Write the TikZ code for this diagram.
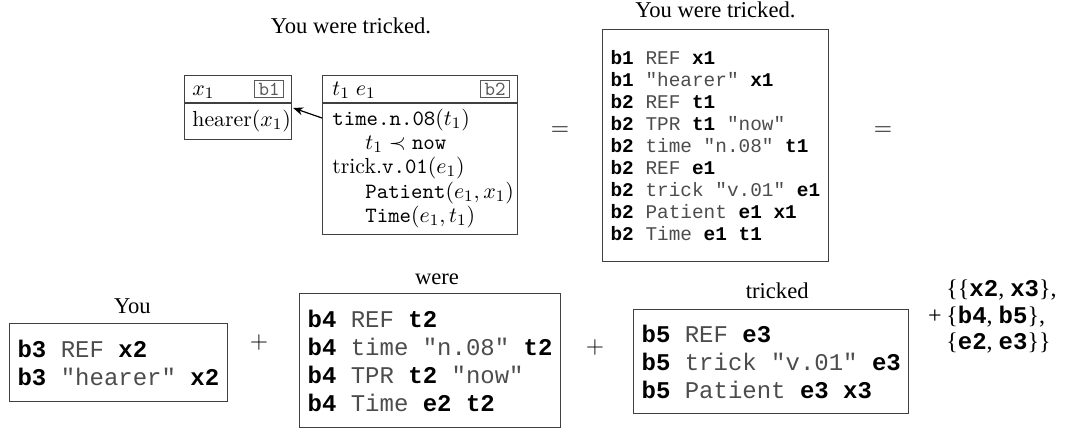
\documentclass[tikz,border=0pt]{standalone}
\usepackage{fontspec}
\usetikzlibrary{calc,arrows.meta}
\newfontfamily\capfont{Liberation Serif}
\newfontfamily\cour{Liberation Mono}
\newcommand{\bv}[1]{{\bfseries\color{black}#1}}
\tikzset{
  x=0.5pt, y=-0.5pt,
  captxt/.style={font=\capfont\fontsize{11.3}{13}\selectfont, anchor=base, inner sep=0pt},
  clbig/.style={draw=black!75, line width=0.6pt, anchor=north west, align=left,
    inner xsep=4pt, inner ysep=0pt, text=black!70, font=\cour\fontsize{9.7}{11}\selectfont},
  clsmall/.style={draw=black!75, line width=0.6pt, anchor=north west, align=left,
    inner xsep=4pt, inner ysep=0pt, text=black!70, font=\cour\fontsize{12}{14}\selectfont},
  drsbox/.style={draw=black!75, line width=0.6pt, anchor=north west, inner sep=0pt},
  drsline/.style={draw=black!75, line width=0.6pt},
  drstext/.style={anchor=base west, inner sep=0pt, font=\fontsize{10.9}{13}\selectfont},
  lab/.style={draw=black!65, text=black!65, line width=0.5pt, inner xsep=2pt, inner ysep=1pt,
    minimum height=8.5pt, anchor=north east, font=\ttfamily\fontsize{10}{10}\selectfont},
  op/.style={inner sep=0pt, font=\fontsize{12}{12}\selectfont},
  setop/.style={inner sep=0pt, font=\capfont\fontsize{12}{13.25}\selectfont},
}
\begin{document}
\begin{tikzpicture}
\useasboundingbox (0,0) rectangle (1065,428);

% top caption
\node[captxt] (cap1) at (351,33) {You were tricked.};

% DRS b1
\node[drsbox, minimum width=53.5pt, minimum height=32pt] (b1) at (184,75) {};
\draw[drsline] ($(b1.north west)+(0,28)$) -- ($(b1.north east)+(0,28)$);
\node[drstext] (b1h) at (192,95) {$x_1$};
\node[lab] (b1l) at ($(b1.north east)+(-8,5)$) {b1};
\node[drstext] (b1c) at (192,126) {hearer$(x_1)$};

% DRS b2
\node[drsbox, minimum width=97.5pt, minimum height=79.5pt] (b2) at (322,75) {};
\draw[drsline] ($(b2.north west)+(0,28)$) -- ($(b2.north east)+(0,28)$);
\node[drstext] (b2h) at (332,95) {$t_1\;e_1$};
\node[lab] (b2l) at ($(b2.north east)+(-8,5)$) {b2};
\node[drstext] (c1) at (332,125) {$\texttt{time.n.08}(t_1)$};
\node[drstext] (c2) at (365,149) {$t_1 \prec \texttt{now}$};
\node[drstext] (c3) at (332,173) {trick.\texttt{v.01}$(e_1)$};
\node[drstext] (c4) at (365,198) {$\texttt{Patient}(e_1,x_1)$};
\node[drstext] (c5) at (365,222) {$\texttt{Time}(e_1,t_1)$};

\draw[-{Stealth[length=5pt,width=4pt]}, line width=0.6pt]
  ($(b2.north west)+(0,43)$) -- ($(b1.north east)+(1,33)$);

% equals
\node[op] (eq1) at (560,131) {$=$};

% big clause box
\node[clbig, minimum height=116pt] (all) at (602,29) {%
\bv{b1} REF \bv{x1}\\
\bv{b1} "hearer" \bv{x1}\\
\bv{b2} REF \bv{t1}\\
\bv{b2} TPR \bv{t1} "now"\\
\bv{b2} time "n.08" \bv{t1}\\
\bv{b2} REF \bv{e1}\\
\bv{b2} trick "v.01" \bv{e1}\\
\bv{b2} Patient \bv{e1} \bv{x1}\\
\bv{b2} Time \bv{e1} \bv{t1}};
\node[captxt] (cap2) at ($(all.north)+(0,-11)$) {You were tricked.};

\node[op] (eq2) at (883,131) {$=$};

% bottom row
\node[clsmall, minimum height=39pt] (b3) at (9,323) {%
\bv{b3} REF \bv{x2}\\
\bv{b3} "hearer" \bv{x2}};
\node[captxt] (capyou) at ($(b3.north)+(14,-10)$) {You};

\node[op] (plus1) at (259,342) {$+$};

\node[clsmall, minimum height=67pt] (b4) at (299,293) {%
\bv{b4} REF \bv{t2}\\
\bv{b4} time "n.08" \bv{t2}\\
\bv{b4} TPR \bv{t2} "now"\\
\bv{b4} Time \bv{e2} \bv{t2}};
\node[captxt] (capwere) at ($(b4.north)+(7,-9)$) {were};

\node[op] (plus2) at (595,347) {$+$};

\node[clsmall, minimum height=52pt] (b5) at (633,309) {%
\bv{b5} REF \bv{e3}\\
\bv{b5} trick "v.01" \bv{e3}\\
\bv{b5} Patient \bv{e3} \bv{x3}};
\node[captxt] (captricked) at ($(b5.north)+(6,-11)$) {tricked};

\node[setop] (plus3) at (935,317) {+};
\node[setop, anchor=west, align=left] (set) at (946,317) {%
\{\{{\cour\bfseries x2}, {\cour\bfseries x3}\},\\
\{{\cour\bfseries b4}, {\cour\bfseries b5}\},\\
\{{\cour\bfseries e2}, {\cour\bfseries e3}\}\}};
\end{tikzpicture}
\end{document}
